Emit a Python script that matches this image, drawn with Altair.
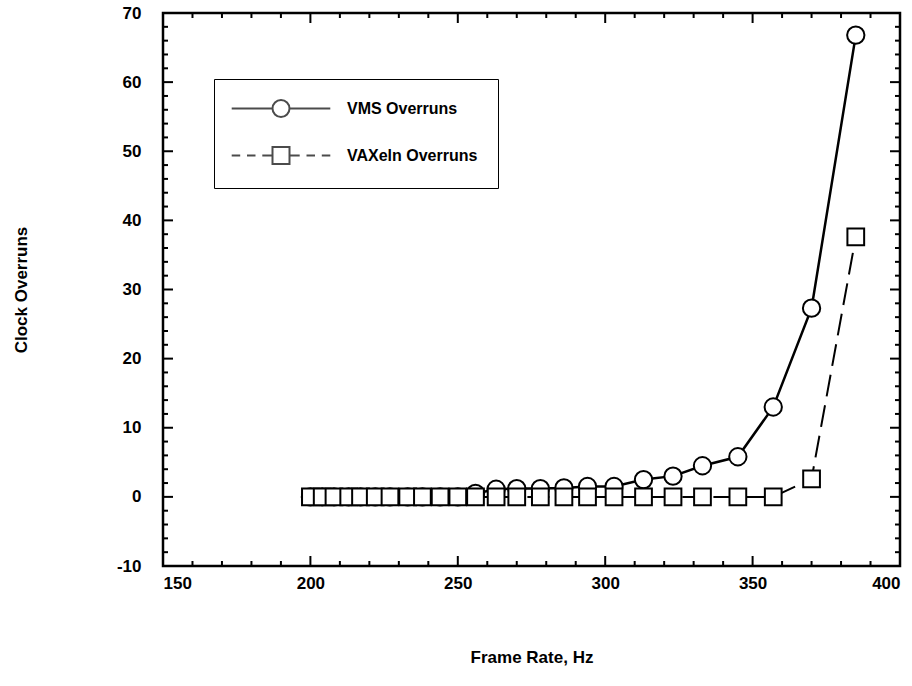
import altair as alt
import pandas as pd

# ---- data ----
frame_rate = [200, 204, 208, 213, 217, 222, 227, 233, 238, 244, 250, 256, 263,
              270, 278, 286, 294, 303, 313, 323, 333, 345, 357, 370, 385]
vms_overruns = [0, 0, 0, 0, 0, 0, 0, 0, 0, 0, 0, 0.5, 1.1,
                1.2, 1.2, 1.3, 1.5, 1.5, 2.5, 3.0, 4.5, 5.8, 13.0, 27.3, 66.8]
vaxeln_overruns = [0, 0, 0, 0, 0, 0, 0, 0, 0, 0, 0, 0, 0,
                   0, 0, 0, 0, 0, 0, 0, 0, 0, 0, 2.6, 37.6]
series_names = ["VMS Overruns", "VAXeln Overruns"]

x_range = [150, 400]
y_range = [-10, 70]
x_major = [150, 200, 250, 300, 350, 400]
x_minor = [160, 170, 180, 190, 210, 220, 230, 240, 260, 270, 280, 290,
           310, 320, 330, 340, 360, 370, 380, 390]
y_major = [-10, 0, 10, 20, 30, 40, 50, 60, 70]
y_minor = [-8, -6, -4, -2, 2, 4, 6, 8, 12, 14, 16, 18, 22, 24, 26, 28,
           32, 34, 36, 38, 42, 44, 46, 48, 52, 54, 56, 58, 62, 64, 66, 68]

FONT = "Liberation Sans"
PLOT_W, PLOT_H = 737, 553

vms_df = pd.DataFrame({"rate": frame_rate, "value": vms_overruns})
vax_df = pd.DataFrame({"rate": frame_rate, "value": vaxeln_overruns})
all_df = pd.concat([
    vms_df.assign(series=series_names[0]),
    vax_df.assign(series=series_names[1]),
])

x_scale = alt.Scale(domain=x_range, nice=False, zero=False)
y_scale = alt.Scale(domain=y_range, nice=False, zero=False)

x_axis = alt.Axis(values=x_major, title="Frame Rate, Hz", ticks=False, domain=False,
                  grid=False, labelFont=FONT, labelFontSize=17, labelFontWeight="bold",
                  labelColor="black", labelPadding=9, titleFont=FONT, titleFontSize=17,
                  titleFontWeight="bold", titleColor="black", titlePadding=58)
y_axis = alt.Axis(values=y_major, title="Clock Overruns", ticks=False, domain=False,
                  grid=False, labelFont=FONT, labelFontSize=17, labelFontWeight="bold",
                  labelColor="black", labelPadding=22, labelAlign="right",
                  labelExpr="datum.value < 0 ? '-' + abs(datum.value) : '' + datum.value",
                  titleFont=FONT, titleFontSize=17, titleFontWeight="bold",
                  titleColor="black", titlePadding=86)

X_RATE = alt.X("rate:Q", scale=x_scale, axis=x_axis, title="Frame Rate, Hz")
Y_VAL = alt.Y("value:Q", scale=y_scale, axis=y_axis, title="Clock Overruns")

# ---- inward frame ticks drawn as rules (tick length converted to data units) ----
x_per_px = (x_range[1] - x_range[0]) / PLOT_W
y_per_px = (y_range[1] - y_range[0]) / PLOT_H

def xticks(vals, length_px, edge, direction):
    df = pd.DataFrame({"tx": vals, "ty": [edge] * len(vals),
                       "ty2": [edge + direction * length_px * y_per_px] * len(vals)})
    return alt.Chart(df).mark_rule(color="black", strokeWidth=2).encode(
        x=alt.X("tx:Q", scale=x_scale, axis=x_axis, title="Frame Rate, Hz"),
        y=alt.Y("ty:Q", scale=y_scale, axis=y_axis, title="Clock Overruns"),
        y2="ty2:Q")

def yticks(vals, length_px, edge, direction):
    df = pd.DataFrame({"ty": vals, "tx": [edge] * len(vals),
                       "tx2": [edge + direction * length_px * x_per_px] * len(vals)})
    return alt.Chart(df).mark_rule(color="black", strokeWidth=2).encode(
        x=alt.X("tx:Q", scale=x_scale, axis=x_axis, title="Frame Rate, Hz"),
        x2="tx2:Q",
        y=alt.Y("ty:Q", scale=y_scale, axis=y_axis, title="Clock Overruns"))

tick_layers = [
    xticks(x_major, 10, y_range[0], 1), xticks(x_minor, 5, y_range[0], 1),
    xticks(x_major, 10, y_range[1], -1), xticks(x_minor, 5, y_range[1], -1),
    yticks(y_major, 10, x_range[0], 1), yticks(y_minor, 5, x_range[0], 1),
    yticks(y_major, 10, x_range[1], -1), yticks(y_minor, 5, x_range[1], -1),
]

# ---- data layers ----
vax_line = alt.Chart(vax_df).mark_line(color="black", strokeWidth=2, strokeDash=[22, 9]).encode(
    x=X_RATE, y=Y_VAL)
vms_line = alt.Chart(vms_df).mark_line(color="black", strokeWidth=2.5).encode(x=X_RATE, y=Y_VAL)
vms_pts = alt.Chart(vms_df).mark_point(shape="circle", size=300, filled=True, fill="white",
                                       stroke="black", strokeWidth=2, opacity=1).encode(
    x=X_RATE, y=Y_VAL)
vax_pts = alt.Chart(vax_df).mark_point(shape="square", size=280, filled=True, fill="white",
                                       stroke="black", strokeWidth=2, opacity=1).encode(
    x=X_RATE, y=Y_VAL)

# ---- legend: line + marker glyphs as symbol paths (plot marks drawn at zero size) ----
legend_paths = [
    "M-5.8,0H-1M1,0H5.8M1,0A1,1 0 1,1 -1,0A1,1 0 1,1 1,0Z",
    "M-5.8,0H-4.8M-4,0H-3M-2.2,0H-1M1,0H2.2M3,0H4M4.8,0H5.8M-1,-1H1V1H-1Z",
]
legend_layer = alt.Chart(all_df).mark_point(
    filled=False, color="black", strokeWidth=2, size=0).encode(
    x=X_RATE, y=Y_VAL,
    shape=alt.Shape("series:N", scale=alt.Scale(domain=series_names, range=legend_paths),
                    legend=alt.Legend(title=None, orient="none", legendX=51, legendY=66,
                                      strokeColor="black", padding=20, rowPadding=22,
                                      symbolSize=289, symbolStrokeWidth=2,
                                      symbolStrokeColor="black",
                                      symbolOffset=37.5, labelOffset=56.5,
                                      labelFont=FONT, labelFontSize=16, labelFontWeight="bold",
                                      labelColor="black", labelLimit=400)),
)

chart = alt.layer(vax_line, vms_line, *tick_layers, legend_layer, vms_pts, vax_pts).properties(
    width=PLOT_W, height=PLOT_H,
    autosize=alt.AutoSizeParams(type="none"),
    padding={"left": 163, "top": 13, "right": 12, "bottom": 120},
    background="white",
).configure_view(stroke="black", strokeWidth=2.5)

chart.save("out.html", embed_options={"renderer": "svg", "actions": False})
